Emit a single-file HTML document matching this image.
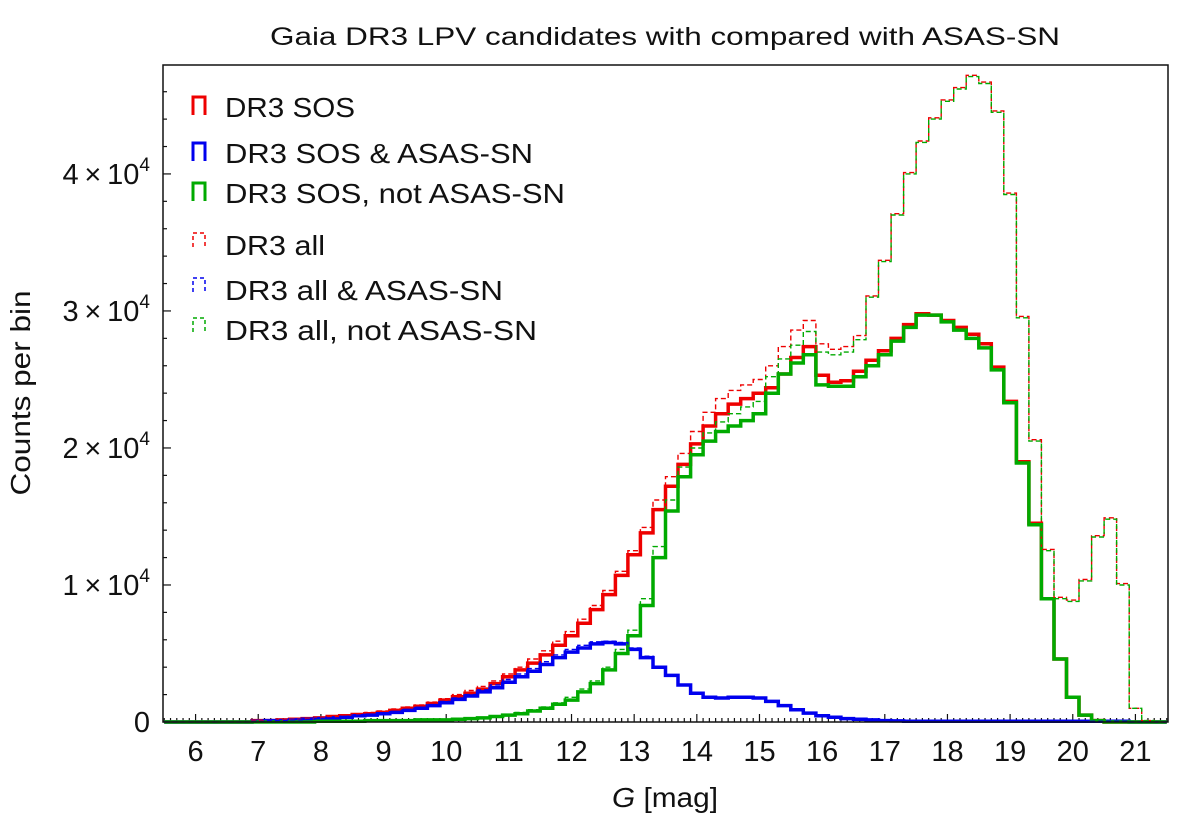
<!DOCTYPE html>
<html><head><meta charset="utf-8"><style>
body{margin:0;background:#fff;}
svg{display:block;font-family:"Liberation Sans","DejaVu Sans",sans-serif;}
</style></head><body>
<svg id="chart" width="1200" height="822" viewBox="0 0 1200 822">
<text x="665" y="45" font-size="25" text-anchor="middle" textLength="790" lengthAdjust="spacingAndGlyphs" fill="#111">Gaia DR3 LPV candidates with compared with ASAS-SN</text>
<text x="665" y="807" font-size="28" text-anchor="middle" textLength="106" lengthAdjust="spacingAndGlyphs" fill="#111"><tspan font-style="italic">G</tspan> [mag]</text>
<text transform="translate(30,393) rotate(-90)" font-size="28" text-anchor="middle" textLength="205" lengthAdjust="spacingAndGlyphs" fill="#111">Counts per bin</text>
<g id="ticks"></g>
<g id="series"></g>
<rect x="163" y="65" width="1005" height="657" fill="none" stroke="#111" stroke-width="1.5"/>
<g id="legend"></g>
</svg>
<script>
const binStart = 5.5;
const binWidth = 0.2;
const xTicks = [6,7,8,9,10,11,12,13,14,15,16,17,18,19,20,21];
const yTicks = [0,10000,20000,30000,40000];
const yTickLabels = ["0","1","2","3","4"];
const sosAll = [0,0,0,0,0,0,0,0.1,0.1,0.15, 0.2,0.25,0.3,0.4,0.45,0.55,0.6,0.7,0.85,1.0, 1.15,1.35,1.6,1.85,2.1,2.4,2.8,3.3,3.8,4.3, 4.9,5.6,6.3,7.2,8.2,9.3,10.7,12.2,13.8,15.5, 17.2,18.8,20.3,21.6,22.5,23.2,23.6,24.0,24.4,25.4, 26.6,27.4,25.3,24.8,24.9,25.6,26.4,27.1,28.0,29.0, 29.8,29.7,29.3,28.8,28.3,27.6,25.9,23.4,19.0,14.5, 9.0,4.6,1.8,0.5,0.1,0,0,0,0,0];
const sosAsas = [0,0,0,0,0,0,0,0.05,0.1,0.1, 0.15,0.2,0.25,0.3,0.35,0.45,0.5,0.6,0.7,0.85, 1.0,1.2,1.4,1.65,1.9,2.2,2.5,2.9,3.3,3.7, 4.2,4.7,5.1,5.4,5.7,5.8,5.7,5.3,4.7,4.0, 3.4,2.7,2.1,1.8,1.75,1.8,1.8,1.75,1.5,1.2, 0.9,0.65,0.45,0.35,0.25,0.2,0.15,0.1,0.08,0.06, 0.05,0.05,0.05,0.05,0.05,0.05,0.05,0.05,0.05,0.05, 0.05,0.05,0.05,0.05,0.05,0.05,0.05,0,0,0];
const sosNotAsas = [0,0,0,0,0,0,0,0,0,0, 0,0,0.05,0.05,0.05,0.05,0.1,0.1,0.1,0.1, 0.15,0.15,0.15,0.2,0.25,0.3,0.4,0.5,0.6,0.8, 1.0,1.3,1.6,2.2,2.8,3.8,5.0,6.3,8.5,12.0, 15.4,17.9,19.5,20.5,21.2,21.6,22.0,22.5,24.0,25.4, 26.2,26.8,24.6,24.5,24.5,25.2,26.0,26.8,27.8,28.8, 29.7,29.7,29.2,28.6,28.0,27.3,25.7,23.3,18.9,14.4, 9.0,4.6,1.8,0.5,0.1,0,0,0,0,0];
const allAll = [0,0,0,0,0,0,0,0.1,0.1,0.15, 0.2,0.25,0.3,0.4,0.5,0.6,0.7,0.8,0.95,1.1, 1.25,1.45,1.7,2.0,2.3,2.6,3.0,3.5,4.0,4.6, 5.2,5.9,6.6,7.5,8.5,9.6,11.0,12.5,14.2,16.2, 17.9,19.6,21.2,22.6,23.6,24.2,24.6,25.0,26.0,27.4, 28.6,29.3,27.6,27.2,27.4,28.2,31.1,33.7,37.1,40.1, 42.4,44.1,45.4,46.3,47.2,46.7,44.6,38.6,29.6,20.6, 12.6,9.1,8.9,10.4,13.6,14.9,10.1,1.0,0.1,0];
const allAsas = [0,0,0,0,0,0,0,0.05,0.1,0.1, 0.15,0.2,0.25,0.3,0.4,0.5,0.55,0.65,0.75,0.9, 1.05,1.25,1.5,1.75,2.0,2.35,2.7,3.1,3.5,3.9, 4.4,4.9,5.3,5.6,5.85,5.9,5.8,5.4,4.8,4.05, 3.45,2.75,2.15,1.85,1.8,1.85,1.85,1.8,1.55,1.25, 0.9,0.65,0.45,0.35,0.25,0.2,0.15,0.1,0.08,0.06, 0.05,0.05,0.05,0.05,0.05,0.05,0.05,0.05,0.05,0.05, 0.05,0.05,0.05,0.05,0.05,0.05,0.05,0,0,0];
const allNotAsas = [0,0,0,0,0,0,0,0,0,0, 0,0,0.05,0.05,0.05,0.05,0.1,0.1,0.1,0.15, 0.15,0.2,0.2,0.25,0.3,0.35,0.45,0.55,0.7,0.9, 1.1,1.4,1.8,2.4,3.0,4.0,5.3,6.7,9.0,12.8, 16.2,18.6,20.0,21.1,21.9,22.5,23.0,23.4,25.2,26.5, 27.5,28.5,27.0,26.8,27.0,27.9,31.0,33.6,37.0,40.0, 42.3,44.0,45.3,46.2,47.1,46.6,44.5,38.5,29.5,20.5, 12.5,9.0,8.8,10.3,13.5,14.8,10.0,1.0,0.1,0];
const seriesNames = ["DR3 SOS","DR3 SOS & ASAS-SN","DR3 SOS, not ASAS-SN","DR3 all","DR3 all & ASAS-SN","DR3 all, not ASAS-SN"];
const legendWidths = [130,308,340,100,278,312];

const NS="http://www.w3.org/2000/svg";
const X0=163,X1=1168,M0=5.48,M1=21.52,Y0=722,YTOP=65,C1=47950;
const xs=m=>X0+(m-M0)/(M1-M0)*(X1-X0);
const ys=c=>Y0-c/C1*(Y0-YTOP);
function mk(tag,attrs,parent){const e=document.createElementNS(NS,tag);for(const k in attrs)e.setAttribute(k,attrs[k]);parent.appendChild(e);return e;}

const tg=document.getElementById('ticks');
for(let i=0;i<=160;i++){const m=5.5+i*0.1;if(m>M1)break;const major=Math.abs(m-Math.round(m))<1e-6&&m>=6;
 const t=mk('line',{x1:xs(m),x2:xs(m),y1:Y0,y2:Y0-(major?8:4),stroke:'#111','stroke-width':1.2},tg);
 
 }
xTicks.forEach(v=>{const t=mk('text',{x:xs(v),y:Y0+39,'font-size':29,'text-anchor':'middle',fill:'#111'},tg);t.textContent=String(v);
 
 });
for(let c=0;c<=46000;c+=2000){const major=c%10000===0;
 const t=mk('line',{x1:X0,x2:X0+(major?8:4),y1:ys(c),y2:ys(c),stroke:'#111','stroke-width':1.2},tg);
 
 }
yTicks.forEach((v,i)=>{const t=mk('text',{x:150,y:ys(v)+10,'font-size':29,'text-anchor':'end',fill:'#111'},tg);
 if(v===0){t.textContent='0';}else{t.innerHTML=yTickLabels[i]+'\u2009\u00d7\u200910<tspan dy="-13" font-size="19">4</tspan>';}
 
 });

function stepPath(vals){let d='M'+xs(binStart)+','+Y0;
 vals.forEach((v,i)=>{const a=binStart+i*binWidth,b=a+binWidth;d+=' L'+xs(a).toFixed(1)+','+ys(v*1000).toFixed(1)+' L'+xs(b).toFixed(1)+','+ys(v*1000).toFixed(1);});
 d+=' L'+xs(binStart+vals.length*binWidth).toFixed(1)+','+Y0;return d;}
const sg=document.getElementById('series');
const defs=[[sosAll,'#ee0000',3.5,null,'series-dr3-sos'],[sosAsas,'#0000ee',3.5,null,'series-dr3-sos-asassn'],[sosNotAsas,'#00aa00',3.5,null,'series-dr3-sos-not-asassn'],
 [allAll,'#ee0000',1.4,'5,3','series-dr3-all'],[allAsas,'#0000ee',1.4,'5,3','series-dr3-all-asassn'],[allNotAsas,'#00aa00',1.4,'5,3','series-dr3-all-not-asassn']];
defs.forEach(d=>{const a={d:stepPath(d[0]),fill:'none',stroke:d[1],'stroke-width':d[2],'stroke-linejoin':'miter'};if(d[3])a['stroke-dasharray']=d[3];
 const p=mk('path',a,sg);
 
 });

const lg=document.getElementById('legend');
const ly=[107,153,193,245,290,330];
defs.forEach((d,i)=>{const y=ly[i];const thick=d[2]>2;const h=thick?18:14;const top=y-(thick?10:12);
 const ic=mk('path',{d:`M193,${top+h} L193,${top} L205,${top} L205,${top+h}`,fill:'none',stroke:d[1],'stroke-width':thick?3:1.5},lg);
 if(!thick)ic.setAttribute('stroke-dasharray','4,3');
 
 
 const t=mk('text',{x:225,y:y+10,'font-size':28,fill:'#111',textLength:legendWidths[i],lengthAdjust:'spacingAndGlyphs'},lg);t.textContent=seriesNames[i];
 
 });
</script>
</body></html>
